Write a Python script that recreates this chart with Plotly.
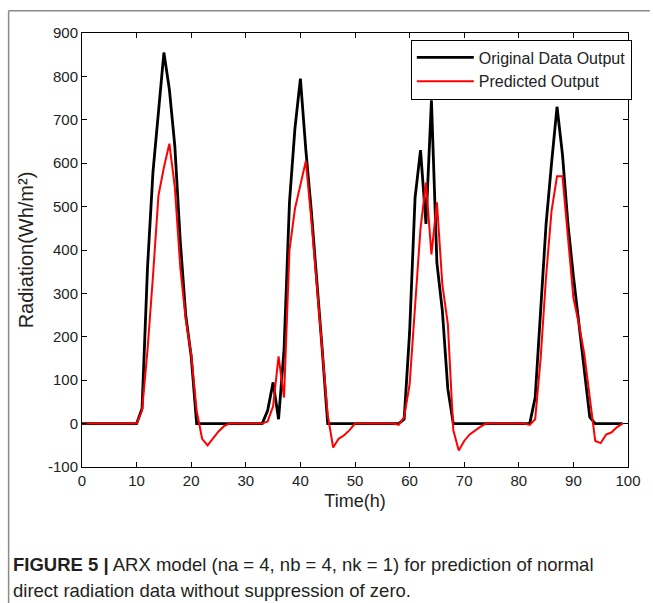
import plotly.graph_objects as go

# ---- data (hourly) ----
time_h = list(range(100))

original_output = [
    0, 0, 0, 0, 0, 0, 0, 0, 0, 0,
    0, 35, 360, 580, 720, 855, 770, 640, 420, 250,
    155, 0, 0, 0, 0, 0, 0, 0, 0, 0,
    0, 0, 0, 0, 30, 95, 10, 170, 510, 680,
    795, 630, 490, 335, 170, 0, 0, 0, 0, 0,
    0, 0, 0, 0, 0, 0, 0, 0, 0, 10,
    210, 520, 630, 460, 745, 370, 260, 80, 0, 0,
    0, 0, 0, 0, 0, 0, 0, 0, 0, 0,
    0, 0, 0, 60, 250, 460, 600, 730, 620, 460,
    340, 230, 110, 15, 0, 0, 0, 0, 0, 0,
]

predicted_output = [
    0, 0, 0, 0, 0, 0, 0, 0, 0, 0,
    0, 30, 170, 340, 525, 590, 645, 545, 360, 240,
    160, 30, -35, -50, -35, -18, -6, 0, 0, 0,
    0, 0, 0, 0, 5, 40, 155, 60, 400, 495,
    550, 605, 470, 320, 170, 20, -55, -35, -27, -15,
    0, 0, 0, 0, 0, 0, 0, 0, -3, 15,
    90, 280, 450, 555, 390, 510, 320, 230, -15, -62,
    -40, -25, -15, -7, 0, 0, 0, 0, 0, 0,
    0, 0, -3, 10, 150, 340, 490, 570, 570, 420,
    290, 230, 160, 60, -40, -45, -25, -20, -8, 0,
]

x_ticks = list(range(0, 101, 10))
y_ticks = list(range(-100, 901, 100))
y_tick_text = [str(v) for v in y_ticks]

FONT = "Liberation Sans, Arial, sans-serif"

fig = go.Figure()
fig.add_trace(go.Scatter(x=time_h, y=original_output, mode="lines",
                         name="Original Data Output",
                         line=dict(color="black", width=2.8)))
fig.add_trace(go.Scatter(x=time_h, y=predicted_output, mode="lines",
                         name="Predicted Output",
                         line=dict(color="#ff0000", width=2)))

axis_common = dict(showline=True, linecolor="black", linewidth=1, mirror="ticks",
                   ticks="inside", ticklen=5, tickcolor="black", showgrid=False,
                   zeroline=False, ticklabeloverflow="allow",
                   tickfont=dict(family=FONT, size=15, color="#222"))

fig.update_xaxes(range=[0, 100], tickvals=x_ticks,
                 title=dict(text="Time(h)", font=dict(family=FONT, size=18, color="#222"), standoff=6),
                 **axis_common)
fig.update_yaxes(range=[-100, 900], tickvals=y_ticks, ticktext=y_tick_text,
                 title=dict(text="Radiation(Wh/m²)", font=dict(family=FONT, size=20, color="#222"), standoff=8),
                 **axis_common)

fig.update_layout(
    width=653, height=603,
    margin=dict(l=82, r=18, t=33, b=136),
    paper_bgcolor="white", plot_bgcolor="white",
    showlegend=True,
    legend=dict(x=1.007, y=0.985, xanchor="right", yanchor="top",
                bgcolor="white", bordercolor="black", borderwidth=1,
                font=dict(family=FONT, size=16, color="#222"),
                tracegroupgap=0, itemwidth=57),
    shapes=[
        dict(type="line", xref="paper", yref="paper", x0=-0.1344, x1=1.04, y0=1.0515, y1=1.0515,
             line=dict(color="#8a8a8a", width=1.5)),
        dict(type="line", xref="paper", yref="paper", x0=-0.1344, x1=-0.1344, y0=1.0515, y1=-0.33,
             line=dict(color="#8a8a8a", width=1.5)),
    ],
    annotations=[
        dict(xref="paper", yref="paper", x=-0.1307, y=-0.2245, xanchor="left", yanchor="middle",
             showarrow=False, align="left",
             text="<b>FIGURE 5 |</b> ARX model (na = 4, nb = 4, nk = 1) for prediction of normal",
             font=dict(family=FONT, size=18.5, color="#231f20")),
        dict(xref="paper", yref="paper", x=-0.1307, y=-0.2845, xanchor="left", yanchor="middle",
             showarrow=False, align="left",
             text="direct radiation data without suppression of zero.",
             font=dict(family=FONT, size=18.5, color="#231f20")),
    ],
)

fig.write_html("out.html",
               config={"displayModeBar": False},
               post_script="document.body.style.margin='0px';document.body.style.overflow='hidden';")
